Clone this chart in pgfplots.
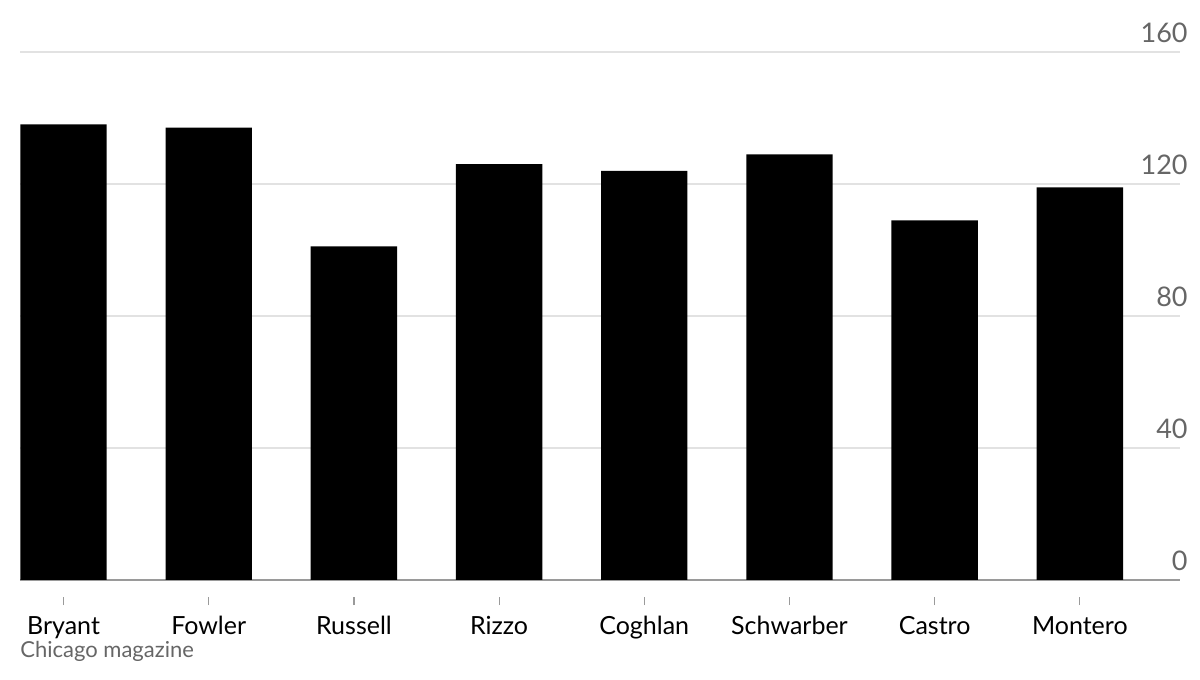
\documentclass[border=0pt]{standalone}
\usepackage{pgfplots}
\pgfplotsset{compat=1.18}
\usepackage{fontspec}
\setmainfont{Lato}
\definecolor{gridc}{HTML}{E2E2E2}
\definecolor{basec}{HTML}{9A9A9A}
\definecolor{labc}{HTML}{666666}
\begin{document}
\begin{tikzpicture}
\path[use as bounding box] (-10pt,-50pt) rectangle (590pt,290pt);
\begin{axis}[
  at={(0,0)}, anchor=south west,
  scale only axis, width=580pt, height=264pt,
  xmin=-0.3, xmax=7.69, ymin=0, ymax=160,
  axis x line*=bottom, axis y line*=right,
  y axis line style={draw=none},
  x axis line style={draw=basec, line width=1pt},
  xtick={0,1,2,3,4,5,6,7},
  xticklabels={Bryant,Fowler,Russell,Rizzo,Coghlan,Schwarber,Castro,Montero},
  tick align=outside, major tick length=4pt,
  xtick style={draw=basec, line width=0.6pt, yshift=-8.5pt},
  xticklabel style={anchor=base, inner sep=0pt, yshift=-23pt, font=\fontsize{12.5}{14}\selectfont, text=black},
  ytick={0,40,80,120,160},
  ytick style={draw=none},
  yticklabel pos=right,
  yticklabel style={anchor=base east, inner sep=0pt, yshift=4.5pt, font=\fontsize{13.5}{15}\selectfont, text=labc},
  /pgf/number format/assume math mode=true,
  ymajorgrids, grid style={draw=gridc, line width=1pt},
  ybar, bar width=0.595,
  clip=false,
]
\addplot[fill=black, draw=none] coordinates {
  (0,138.1) (1,137.1) (2,101.1) (3,126.0) (4,124.0) (5,129.0) (6,109.0) (7,119.0)
};
\end{axis}
\node[anchor=base west, inner sep=0pt, text=labc, font=\fontsize{11}{13}\selectfont] at (0pt,-38.5pt) {Chicago magazine};
\end{tikzpicture}
\end{document}
